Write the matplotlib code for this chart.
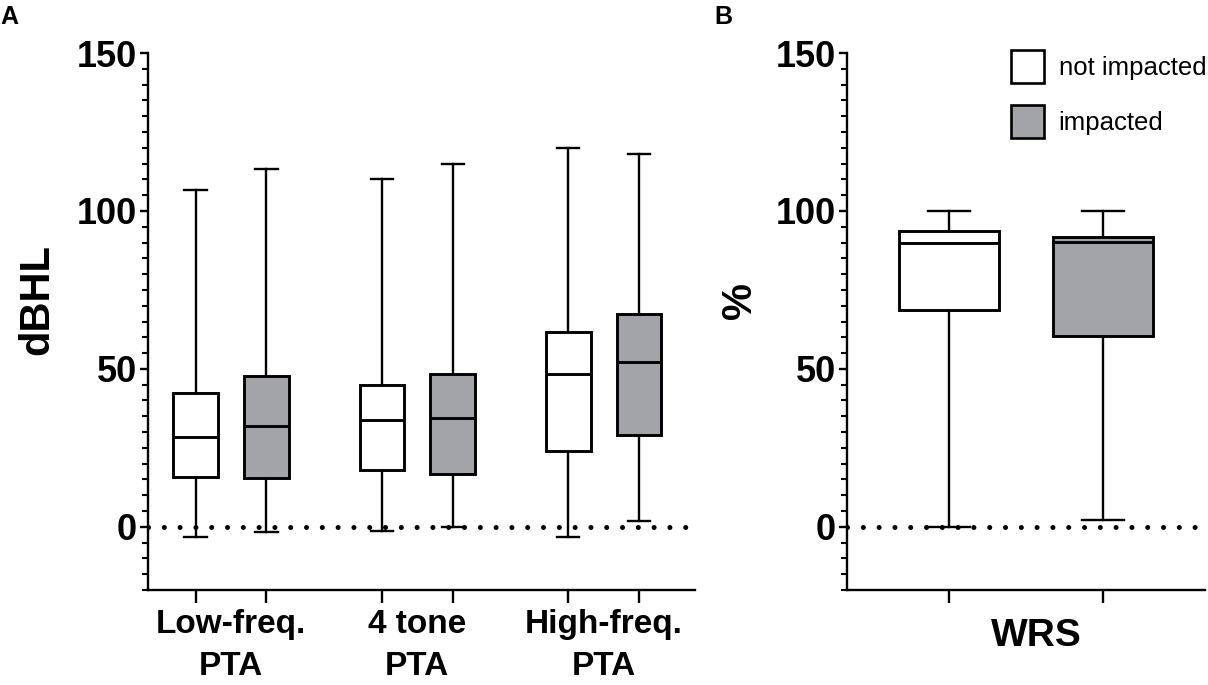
import numpy as np
import matplotlib.pyplot as plt
from matplotlib.ticker import MultipleLocator
from matplotlib.patches import Patch

plt.rcParams['font.family'] = ['Liberation Sans', 'DejaVu Sans']

# panel A: hearing thresholds (dBHL), not impacted / impacted per measure
groups_a = ['Low-freq.\nPTA', '4 tone\nPTA', 'High-freq.\nPTA']
ni_lo = [-3.2, -1.2, -3.3]
ni_q1 = [15.7, 18.1, 24.0]
ni_med = [28.4, 33.9, 48.4]
ni_q3 = [42.3, 44.8, 61.7]
ni_hi = [106.6, 110.0, 119.8]

im_lo = [-1.5, 0.0, 1.8]
im_q1 = [15.5, 16.7, 29.2]
im_med = [31.8, 34.3, 52.2]
im_q3 = [47.7, 48.5, 67.5]
im_hi = [113.4, 115.0, 118.0]

# panel B: word recognition score (%)
groups_b = ['WRS']
wrs_lo = [0.0, 2.1]
wrs_q1 = [68.5, 60.4]
wrs_med = [90.0, 90.2]
wrs_q3 = [93.8, 91.8]
wrs_hi = [100.0, 100.0]

labels = ['not impacted', 'impacted']
colors = ['white', '#a3a4a8']


def stats(lo, q1, med, q3, hi):
    return [dict(whislo=a, q1=b, med=c, q3=d, whishi=e, fliers=[])
            for a, b, c, d, e in zip(lo, q1, med, q3, hi)]


def draw(ax, st, pos, width, capw, color):
    bp = ax.bxp(st, positions=pos, widths=width, capwidths=capw,
                patch_artist=True, showfliers=False,
                boxprops=dict(facecolor=color, edgecolor='black', linewidth=2.1),
                medianprops=dict(color='black', linewidth=2.1),
                whiskerprops=dict(color='black', linewidth=1.7),
                capprops=dict(color='black', linewidth=1.7))
    for b in bp['boxes']:
        b.set_zorder(3)
    for m in bp['medians']:
        m.set_zorder(4)
    return bp


def style(ax):
    ax.spines['top'].set_visible(False)
    ax.spines['right'].set_visible(False)
    ax.spines['left'].set_linewidth(1.7)
    ax.spines['bottom'].set_linewidth(1.7)
    ax.set_ylim(-20, 150)
    ax.set_yticks([0, 50, 100, 150])
    ax.yaxis.set_minor_locator(MultipleLocator(5))
    ax.tick_params(axis='y', which='major', length=6, width=1.7, labelsize=26, pad=2)
    ax.tick_params(axis='y', which='minor', length=4, width=1.5)
    ax.tick_params(axis='x', which='major', length=9, width=1.7, labelbottom=False)
    ax.tick_params(axis='x', which='minor', length=0, labelsize=24, pad=14)
    for t in ax.get_yticklabels():
        t.set_fontweight('bold')
    ax.axhline(0, color='black', linewidth=3.6, linestyle=(0, (0.01, 3.15)),
               dash_capstyle='round', zorder=5)


fig = plt.figure(figsize=(12.08, 6.85), dpi=100)
ax1 = fig.add_axes([0.1225, 0.1387, 0.4528, 0.7839])
ax2 = fig.add_axes([0.7012, 0.1387, 0.2963, 0.7839])

# panel A
centers = np.arange(1, len(groups_a) + 1)
off = 0.19
draw(ax1, stats(ni_lo, ni_q1, ni_med, ni_q3, ni_hi), centers - off, 0.24, 0.12, colors[0])
draw(ax1, stats(im_lo, im_q1, im_med, im_q3, im_hi), centers + off, 0.24, 0.12, colors[1])
style(ax1)
ax1.set_xlim(0.555, 3.49)
ax1.set_xticks(np.concatenate([centers - off, centers + off]))
ax1.set_xticks(centers, minor=True)
ax1.set_xticklabels(groups_a, minor=True, fontweight='bold', linespacing=1.45)
ax1.set_ylabel('dBHL', fontsize=30, fontweight='bold')
ax1.yaxis.set_label_coords(-0.165, 0.54)

# panel B
pos_b = np.array([1, 2])
for i in range(2):
    draw(ax2, stats(wrs_lo[i:i + 1], wrs_q1[i:i + 1], wrs_med[i:i + 1],
                    wrs_q3[i:i + 1], wrs_hi[i:i + 1]),
         pos_b[i:i + 1], 0.65, 0.27, colors[i])
style(ax2)
ax2.set_xlim(0.34, 2.66)
ax2.set_xticks(pos_b)
ax2.set_xticks([1.57], minor=True)
ax2.set_xticklabels(groups_b, minor=True, fontweight='bold', fontsize=28)
ax2.tick_params(axis='x', which='minor', pad=20)
ax2.set_ylabel('%', fontsize=30, fontweight='bold')
ax2.yaxis.set_label_coords(-0.243, 0.54)

handles = [Patch(facecolor=c, edgecolor='black', linewidth=1.9) for c in colors]
fig.legend(handles, labels, loc='upper left', bbox_to_anchor=(1011 / 1208, 1 - 50 / 685),
           frameon=False, fontsize=18.5, handlelength=1.3, handleheight=1.6,
           labelspacing=0.85, handletextpad=0.55, borderpad=0, borderaxespad=0)

fig.text(0.0, 0.992, 'A', fontsize=18, fontweight='bold', va='top')
fig.text(0.591, 0.992, 'B', fontsize=18, fontweight='bold', va='top')

fig.savefig('out.png', dpi=100)
